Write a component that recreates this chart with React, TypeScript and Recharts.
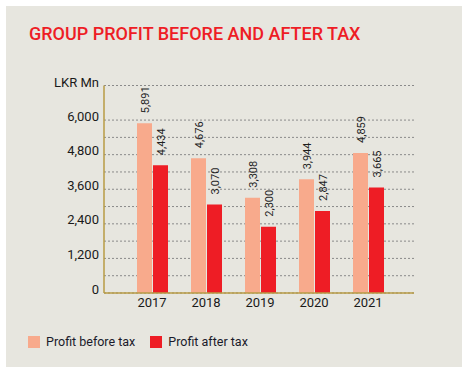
import { BarChart, Bar, XAxis, YAxis, CartesianGrid, LabelList } from "recharts";

const years = ["2017", "2018", "2019", "2020", "2021"];
const profitBeforeTax = [5891, 4676, 3308, 3944, 4859];
const profitAfterTax = [4434, 3070, 2300, 2847, 3665];
const yTicks = [0, 600, 1200, 1800, 2400, 3000, 3600, 4200, 4800, 5400, 6000];

const BEFORE = "#f8aa8c";
const AFTER = "#ee1d25";
const AXIS = "#b89b45";
const FONT = "Roboto, 'Liberation Sans', sans-serif";

const data = years.map((year, i) => ({
  year,
  before: profitBeforeTax[i],
  after: profitAfterTax[i],
}));

const fmt = (v: number) => v.toLocaleString("en-US");

function RotatedLabel(props: any) {
  const { x, y, width, value } = props;
  const cx = x + width / 2 + 5;
  const top = y - 10;
  return (
    <text
      x={cx}
      y={top}
      transform={`rotate(-90 ${cx} ${top})`}
      textAnchor="start"
      fontSize={11}
      fontFamily={FONT}
      fill="#1f1f1f"
    >
      {fmt(value)}
    </text>
  );
}

export default function App() {
  return (
    <div
      style={{
        position: "absolute",
        left: 6,
        top: 6,
        width: 456,
        height: 361,
        background: "#e7e6df",
        fontFamily: FONT,
      }}
    >
      <div
        style={{
          position: "absolute",
          left: 23,
          top: 17,
          color: AFTER,
          fontSize: 18,
          fontWeight: 500,
          whiteSpace: "nowrap",
        }}
      >
        GROUP PROFIT BEFORE AND AFTER TAX
      </div>
      <div style={{ position: "absolute", left: 48, top: 69, fontSize: 13, color: "#1a1a1a" }}>
        LKR Mn
      </div>
      <BarChart
        width={456}
        height={361}
        data={data}
        margin={{ top: 79.5, right: 48, bottom: 44, left: 0 }}
        barSize={15}
        barGap={1}
        style={{ position: "absolute", left: 0, top: 0 }}
      >
        <CartesianGrid vertical={false} stroke="#8a8a8a" strokeDasharray="2 2" />
        <XAxis
          dataKey="year"
          height={30}
          padding={{ left: 21, right: 19 }}
          tickLine={false}
          tickSize={0}
          tickMargin={5}
          stroke={AXIS}
          strokeWidth={1.5}
          tick={{ fill: "#1a1a1a", fontSize: 13, fontFamily: FONT }}
        />
        <YAxis
          width={98}
          domain={[0, 7200]}
          ticks={yTicks}
          interval={0}
          tickLine={false}
          tickSize={0}
          tickMargin={5}
          stroke={AXIS}
          strokeWidth={1.5}
          tickFormatter={(v: number) => (v % 1200 === 0 ? fmt(v) : "")}
          tick={{ fill: "#1a1a1a", fontSize: 13, fontFamily: FONT, dy: -4 }}
        />
        <Bar dataKey="before" name="Profit before tax" fill={BEFORE} isAnimationActive={false}>
          <LabelList dataKey="before" content={RotatedLabel} />
        </Bar>
        <Bar dataKey="after" name="Profit after tax" fill={AFTER} isAnimationActive={false}>
          <LabelList dataKey="after" content={RotatedLabel} />
        </Bar>
      </BarChart>
      <div
        style={{
          position: "absolute",
          left: 22,
          top: 328,
          display: "flex",
          alignItems: "center",
          fontSize: 12.5,
          color: "#1a1a2a",
        }}
      >
        <span style={{ width: 12, height: 12, background: BEFORE, marginRight: 6 }} />
        <span style={{ marginRight: 15 }}>Profit before tax</span>
        <span style={{ width: 12, height: 12, background: AFTER, marginRight: 6 }} />
        <span>Profit after tax</span>
      </div>
    </div>
  );
}
